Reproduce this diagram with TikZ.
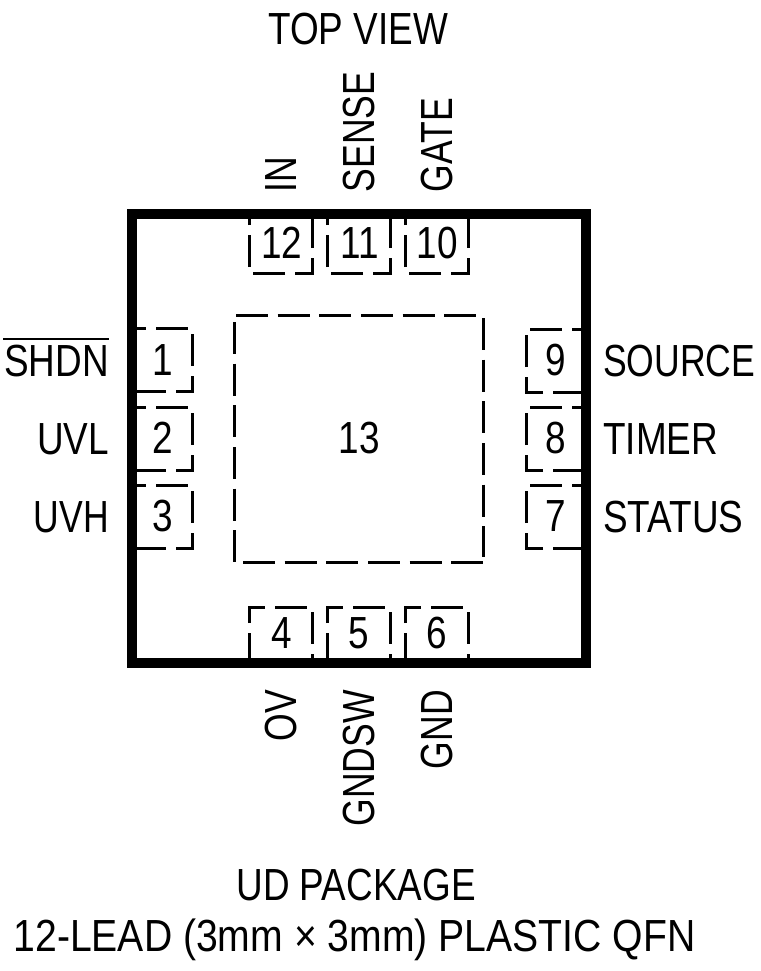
\documentclass[tikz,border=0pt]{standalone}
\usepackage{fontspec}
\setmainfont[FakeStretch=0.82]{Liberation Sans}
\newfontfamily\widefont[FakeStretch=0.87]{Liberation Sans}
\newfontfamily\narrowfont[FakeStretch=0.79]{Liberation Sans}
\begin{document}
\begin{tikzpicture}[x=1pt,y=-1pt,
  frame/.style={line width=10pt,miter limit=10},
  dsh/.style={line width=3pt,dash pattern=on 32pt off 10pt},
  dshc/.style={line width=3pt,dash pattern=on 32pt off 9.67pt},
  lab/.style={font=\fontsize{45}{45}\selectfont,inner sep=0pt,text=black},
  nlab/.style={lab,font=\narrowfont\fontsize{45}{45}\selectfont},
  ]
\useasboundingbox (0,0) rectangle (760,971);
% pads, top
\foreach \x in {312,390,468} \draw[dsh] (\x,216) -- (\x,273) -- (\x-63,273) -- (\x-63,214);
% pads, left
\foreach \y in {328,407,485} \draw[dsh,dash phase=18pt] (132,\y) -- (192,\y) -- (192,\y+63.5) -- (132,\y+63.5);
% pads, bottom
\foreach \x in {249,327,405} \draw[dsh,dash phase=2pt] (\x,663) -- (\x,607) -- (\x+63,607) -- (\x+63,663);
% pads, right
\foreach \y in {548,470,392} \draw[dsh] (585,\y) -- (526,\y) -- (526,\y-63) -- (585,\y-63);
% exposed pad
\draw[dshc] (236,315) -- (477,315);
\draw[dshc] (483,318) -- (483,557);
\draw[dshc] (243,562) -- (483,562);
\draw[dshc] (234.3,322) -- (234.3,562);
\draw[frame] (132,214) rectangle (585.5,663);
\node[lab] (tv) at (358,29) {TOP VIEW};
\node[lab] (t13) at (359,438) {13};
\node[lab] (p12) at (282,243) {12};
\node[lab] (p11) at (359.5,243) {11};
\node[lab] (p10) at (437.5,243) {10};
\node[lab] (p4) at (281.5,633) {4};
\node[lab] (p5) at (359,633) {5};
\node[lab] (p6) at (437,633) {6};
\node[lab] (p1) at (162.5,360) {1};
\node[lab] (p2) at (162.5,438) {2};
\node[lab] (p3) at (162.5,516) {3};
\node[lab] (p9) at (556,360) {9};
\node[lab] (p8) at (556,438) {8};
\node[lab] (p7) at (556,516) {7};
\node[lab,anchor=east] (l1) at (109,361) {SHDN};
\draw[line width=2.5pt] (3,339) -- (109,339);
\node[lab,anchor=east] (l2) at (109,439) {UVL};
\node[nlab,anchor=east] (l3) at (109,517) {UVH};
\node[nlab,anchor=west] (l9) at (603,361) {SOURCE};
\node[lab,anchor=west] (l8) at (603,439) {TIMER};
\node[lab,anchor=west] (l7) at (603,517) {STATUS};
\node[nlab,rotate=90,anchor=west] (l12) at (281,192.5) {IN};
\node[nlab,rotate=90,anchor=west] (l11) at (359,192.5) {SENSE};
\node[nlab,rotate=90,anchor=west] (l10) at (437,192.5) {GATE};
\node[nlab,rotate=90,anchor=east] (l4) at (281,690) {OV};
\node[nlab,rotate=90,anchor=east] (l5) at (359,690) {GNDSW};
\node[nlab,rotate=90,anchor=east] (l6) at (437,690) {GND};
\node[lab] (b1) at (356,885) {UD PACKAGE};
\node[lab,font=\widefont\fontsize{45}{45}\selectfont] (b2) at (354.5,940) {12-LEAD (3mm × 3mm) PLASTIC QFN};
\end{tikzpicture}
\end{document}
